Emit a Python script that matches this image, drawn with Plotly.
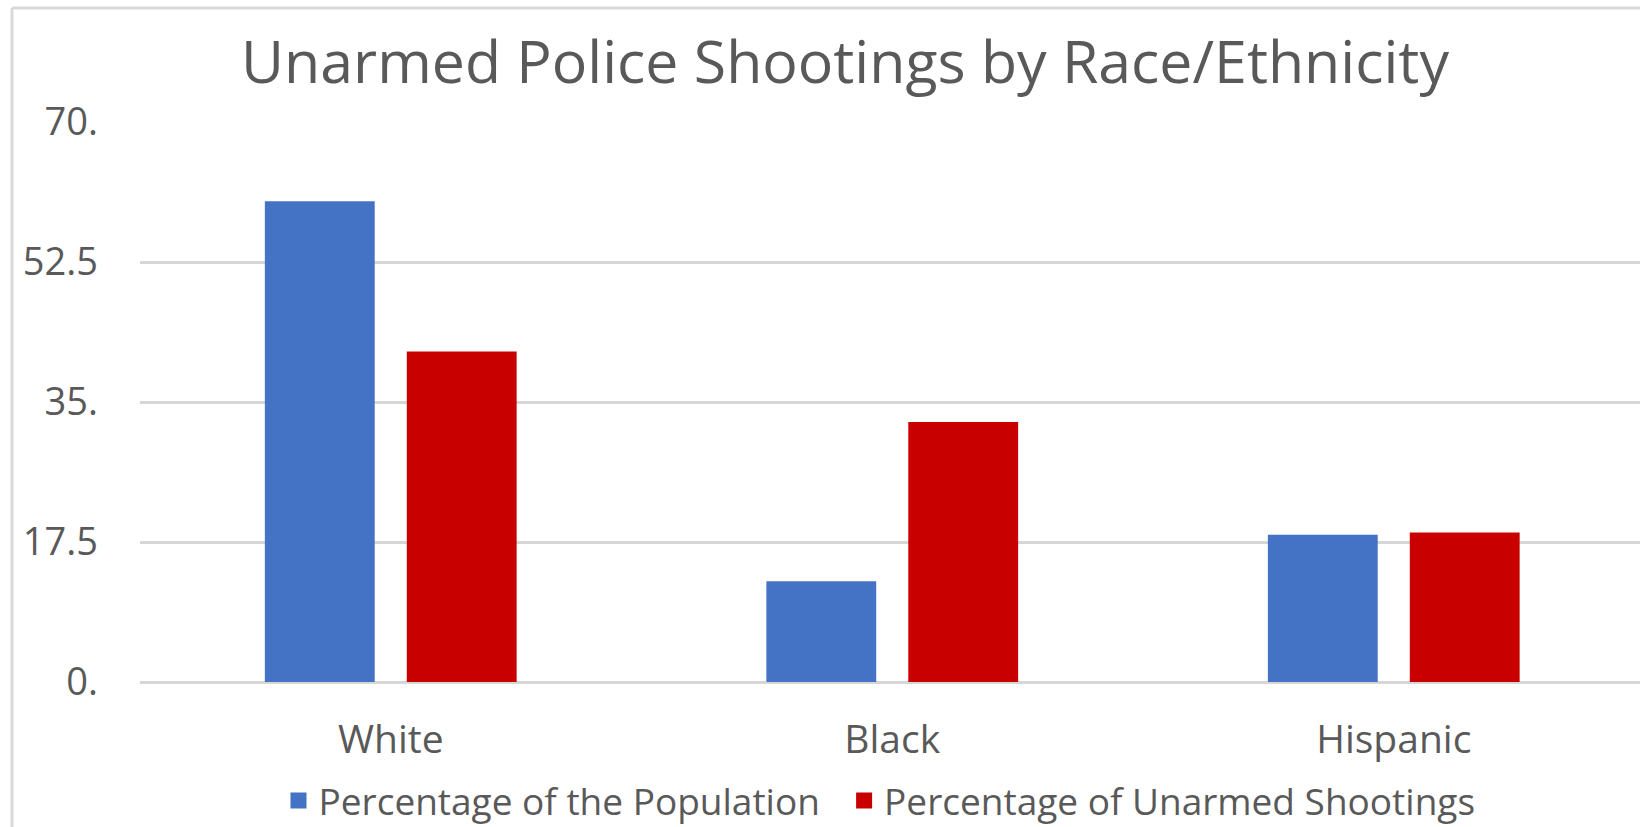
import plotly.graph_objects as go

# Chart data
categories = ["White", "Black", "Hispanic"]
population_pct = [60.1, 12.6, 18.4]
unarmed_shootings_pct = [41.3, 32.5, 18.7]
y_tick_values = [0, 17.5, 35, 52.5, 70]
y_tick_labels = ["0.", "17.5", "35.", "52.5", "70."]
series_names = ["Percentage of the Population", "Percentage of Unarmed Shootings"]

BLUE = "#4472C4"
RED = "#C80000"
TEXT = "#595959"
GRID = "#d6d6d6"
FONT = "Open Sans"

fig = go.Figure()
for name, values, color in zip(series_names, [population_pct, unarmed_shootings_pct], [BLUE, RED]):
    fig.add_trace(go.Bar(
        name=name, x=categories, y=values,
        marker=dict(color=color, line=dict(width=0)),
        showlegend=False,
    ))
# legend entries with larger square swatches (a little extra space after the first)
legend_labels = [series_names[0] + "\u00a0\u00a0", series_names[1]]
for label, color in zip(legend_labels, [BLUE, RED]):
    fig.add_trace(go.Scatter(
        name=label, x=[None], y=[None], mode="markers",
        marker=dict(symbol="square", size=16, color=color),
        showlegend=True, hoverinfo="skip",
    ))

fig.update_layout(
    width=1640, height=827,
    margin=dict(l=140, r=0, t=122, b=145, autoexpand=False),
    paper_bgcolor="white", plot_bgcolor="white",
    barmode="group", bargap=0.434, bargroupgap=0.226,
    font=dict(family=FONT, color=TEXT),
    title=dict(
        text="Unarmed Police Shootings by Race/Ethnicity",
        font=dict(family=FONT, size=59, color=TEXT),
        x=845 / 1640, xanchor="center", xref="container",
        y=1 - 62 / 827, yanchor="middle", yref="container",
    ),
    xaxis=dict(
        range=[-0.5, 2.491],
        showgrid=False, zeroline=False, showline=False,
        ticks="", tickfont=dict(size=39, color=TEXT, family=FONT),
        ticklabelstandoff=31,
    ),
    yaxis=dict(
        range=[0, 70],
        tickvals=y_tick_values, ticktext=y_tick_labels,
        showgrid=True, gridcolor=GRID, gridwidth=2.5,
        zeroline=True, zerolinecolor=GRID, zerolinewidth=2.5,
        showline=False, ticks="",
        tickfont=dict(size=38, color=TEXT, family=FONT),
        ticklabelstandoff=41,
    ),
    legend=dict(
        orientation="h",
        x=0.493, xanchor="center",
        y=-0.2125, yanchor="middle",
        font=dict(size=37, color=TEXT, family=FONT),
        traceorder="normal",
        itemwidth=30,
    ),
    shapes=[
        # light frame around the chart area
        dict(type="line", xref="paper", yref="paper",
             x0=(12 - 140) / 1500, x1=1.2, y0=(682 - 8) / 560, y1=(682 - 8) / 560,
             line=dict(color="#d9d9d9", width=3)),
        dict(type="line", xref="paper", yref="paper",
             x0=(12 - 140) / 1500, x1=(12 - 140) / 1500, y0=-0.5, y1=(682 - 8) / 560,
             line=dict(color="#d9d9d9", width=3)),
    ],
)

fig.write_html("out.html")
